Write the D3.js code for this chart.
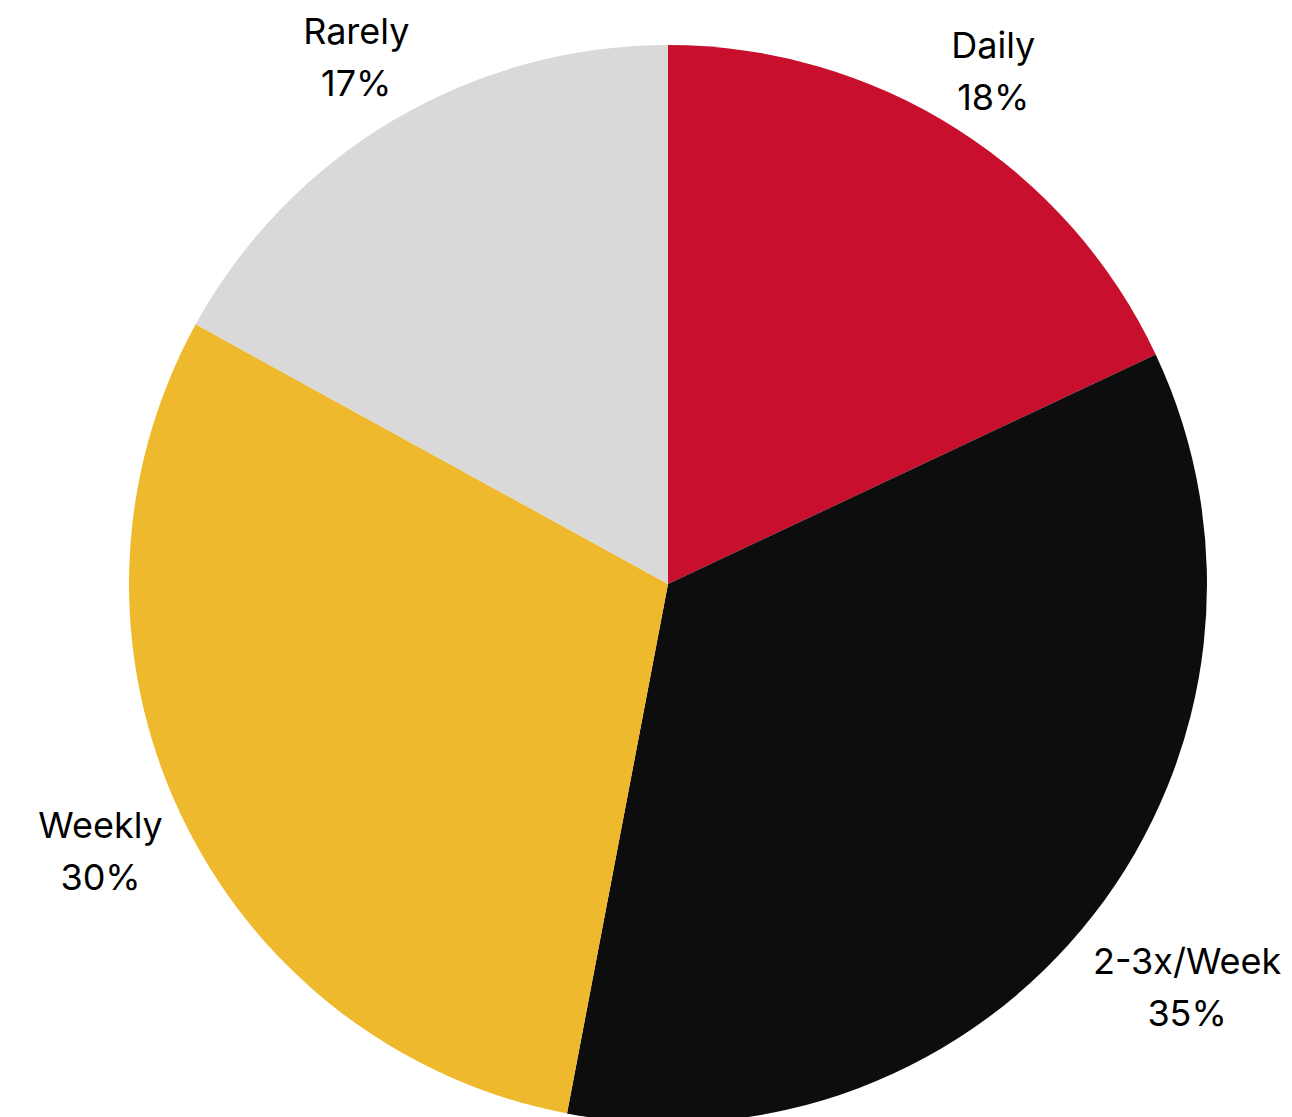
<!DOCTYPE html>
<html>
<head>
<meta charset="utf-8">
<script src="https://cdn.jsdelivr.net/npm/d3@7"></script>
<style>
  html, body { margin: 0; padding: 0; background: #ffffff; }
  svg { display: block; }
</style>
</head>
<body>
<svg id="chart" width="1292" height="1117"></svg>
<script>
// Frequency shares, clockwise from 12 o'clock
const categories = ["Daily", "2-3x/Week", "Weekly", "Rarely"];
const shares = [18, 35, 30, 17];
const sliceColors = ["#C8102E", "#0D0D0D", "#EEB92D", "#D9D9D9"];

const width = 1292, height = 1117;
const cx = 668, cy = 584, radius = 539;
const fontSize = 36, lineGap = 52, labelGap = 5;

const svg = d3.select("#chart");
const g = svg.append("g").attr("transform", `translate(${cx},${cy})`);

const data = categories.map((c, i) => ({ name: c, value: shares[i], color: sliceColors[i] }));

const pie = d3.pie().value(d => d.value).sort(null);
const arc = d3.arc().innerRadius(0).outerRadius(radius);
const arcs = pie(data);

g.selectAll("path.slice")
  .data(arcs)
  .join("path")
  .attr("class", "slice")
  .attr("d", arc)
  .attr("fill", d => d.data.color);

// Two-line labels placed outside the rim along each slice's mid-angle
const labels = g.selectAll("g.label")
  .data(arcs)
  .join("g")
  .attr("class", "label");

labels.append("text")
  .attr("text-anchor", "middle")
  .attr("font-family", "Inter, 'Open Sans', sans-serif")
  .attr("font-size", fontSize)
  .attr("fill", "#000")
  .selectAll("tspan")
  .data(d => [d.data.name, d3.format(".0%")(d.data.value / 100)])
  .join("tspan")
  .attr("x", 0)
  .attr("y", (t, i) => i * lineGap)
  .text(t => t);

labels.each(function(d) {
  const sel = d3.select(this);
  const box = sel.node().getBBox();
  const mid = (d.startAngle + d.endAngle) / 2;
  const ux = Math.sin(mid), uy = -Math.cos(mid);
  const halfExtent = Math.abs(ux) * box.width / 2 + Math.abs(uy) * box.height / 2;
  // labels below the centre sit a little further from the rim
  const r = radius + labelGap + 15 * Math.max(0, uy) + halfExtent;
  const bx = box.x + box.width / 2, by = box.y + box.height / 2;
  sel.attr("transform", `translate(${ux * r - bx},${uy * r - by})`);
});
</script>
</body>
</html>
